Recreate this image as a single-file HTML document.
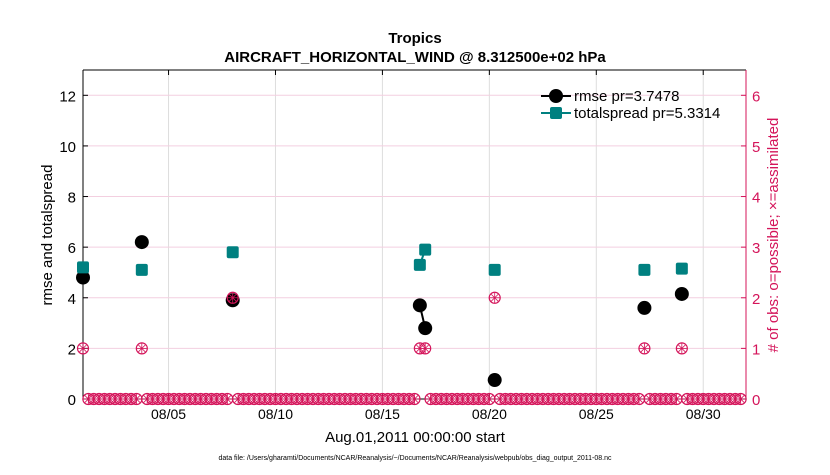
<!DOCTYPE html>
<html><head><meta charset="utf-8"><style>
body{margin:0;background:#fff;}
svg text{font-family:"Liberation Sans",sans-serif;}
</style></head><body>
<svg id="chart" width="830" height="470" xmlns="http://www.w3.org/2000/svg">
<rect width="830" height="470" fill="#fff"/>
<text x="415" y="43" text-anchor="middle" font-size="15" font-weight="bold">Tropics</text>
<text x="415" y="62" text-anchor="middle" font-size="15" font-weight="bold">AIRCRAFT_HORIZONTAL_WIND @ 8.312500e+02 hPa</text>
<g id="grid"></g>
<g id="axes"></g>
<g id="marks"></g>
<text transform="translate(52,235) rotate(-90)" text-anchor="middle" font-size="15">rmse and totalspread</text>
<text transform="translate(778,235) rotate(-90)" text-anchor="middle" font-size="15" fill="#d4145a"># of obs: o=possible; ×=assimilated</text>
<text x="415" y="442" text-anchor="middle" font-size="15">Aug.01,2011 00:00:00 start</text>
<text x="415" y="460" text-anchor="middle" font-size="7">data file: /Users/gharamti/Documents/NCAR/Reanalysis/~/Documents/NCAR/Reanalysis/webpub/obs_diag_output_2011-08.nc</text>
<g>
<line x1="541" y1="96" x2="571" y2="96" stroke="#000" stroke-width="2"/>
<circle cx="556" cy="96" r="7" fill="#000"/>
<text x="574" y="101" font-size="15">rmse pr=3.7478</text>
<line x1="541" y1="113" x2="571" y2="113" stroke="#008080" stroke-width="2"/>
<rect x="550" y="107" width="12" height="12" rx="2" fill="#008080"/>
<text x="574" y="118" font-size="15">totalspread pr=5.3314</text>
</g>
</svg>
<script>
const xTickLabels=["08/05","08/10","08/15","08/20","08/25","08/30"];
const xTickDays=[5,10,15,20,25,30];
const yTicks=[0,2,4,6,8,10,12];
const rTicks=[0,1,2,3,4,5,6];
const obsSlots=[0,11,28,63,64,77,105,112];
const rmse=[4.8,6.2,3.9,3.7,2.8,0.75,3.6,4.15];
const spread=[5.2,5.1,5.8,5.3,5.9,5.1,5.1,5.15];
const obsCount=[1,1,2,1,1,2,1,1];
const nSlots=124;
const NS="http://www.w3.org/2000/svg";
const L=83,R=746,T=70,B=399;
const xs=d=>L+(d-1)*(R-L)/31;
const ys=v=>B-v*(B-T)/13;
const yr=v=>ys(v*2);
const slotDay=i=>1+i/4;
function mk(tag,attrs,parent){const e=document.createElementNS(NS,tag);for(const k in attrs)e.setAttribute(k,attrs[k]);parent.appendChild(e);return e;}
const grid=document.getElementById('grid'),axes=document.getElementById('axes'),marks=document.getElementById('marks');
xTickDays.forEach((d,i)=>{const x=xs(d);
 const g=mk('line',{x1:x,x2:x,y1:T,y2:B,stroke:'#ddd','stroke-width':1},grid);
 
 mk('line',{x1:x,x2:x,y1:B,y2:B-5,stroke:'#000'},axes);mk('line',{x1:x,x2:x,y1:T,y2:T+5,stroke:'#000'},axes);
 const t=mk('text',{x:x,y:B+20,'text-anchor':'middle','font-size':14},axes);t.textContent=xTickLabels[i];
 });
rTicks.forEach(v=>{const y=yr(v);
 const g=mk('line',{x1:L,x2:R,y1:y,y2:y,stroke:'#f3cfe0','stroke-width':1},grid);
 
 mk('line',{x1:R,x2:R-5,y1:y,y2:y,stroke:'#d4145a'},axes);
 const t=mk('text',{x:R+6,y:y+6,'font-size':15,fill:'#d4145a'},axes);t.textContent=v;
 });
yTicks.forEach(v=>{const y=ys(v);
 mk('line',{x1:L,x2:L+5,y1:y,y2:y,stroke:'#000'},axes);
 const t=mk('text',{x:L-7,y:y+6,'text-anchor':'end','font-size':15},axes);t.textContent=v;
 });
mk('line',{x1:L,x2:R,y1:T,y2:T,stroke:'#000'},axes);
mk('line',{x1:L,x2:R,y1:B,y2:B,stroke:'#000'},axes);
mk('line',{x1:L,x2:L,y1:T,y2:B,stroke:'#000'},axes);
mk('line',{x1:R,x2:R,y1:T,y2:B,stroke:'#d4145a'},axes);
function obsMarker(x,y){const g=mk('g',{},marks);
 
 mk('circle',{cx:x,cy:y,r:5.5,fill:'none',stroke:'#d4145a','stroke-width':1.2},g);
 for(let a=0;a<4;a++){const an=a*Math.PI/4;mk('line',{x1:x-5*Math.cos(an),y1:y-5*Math.sin(an),x2:x+5*Math.cos(an),y2:y+5*Math.sin(an),stroke:'#d4145a','stroke-width':0.8},g);}}
for(let i=0;i<nSlots;i++){const k=obsSlots.indexOf(i);if(k<0)obsMarker(xs(slotDay(i)),yr(0));}
// rmse connecting lines for consecutive slots
for(let k=1;k<obsSlots.length;k++){if(obsSlots[k]-obsSlots[k-1]===1){
 const l=mk('line',{x1:xs(slotDay(obsSlots[k-1])),y1:ys(rmse[k-1]),x2:xs(slotDay(obsSlots[k])),y2:ys(rmse[k]),stroke:'#000','stroke-width':2},marks);
 
 const l2=mk('line',{x1:xs(slotDay(obsSlots[k-1])),y1:ys(spread[k-1]),x2:xs(slotDay(obsSlots[k])),y2:ys(spread[k]),stroke:'#008080','stroke-width':2},marks);
 }}
obsSlots.forEach((s,k)=>{const x=xs(slotDay(s));
 const c=mk('circle',{cx:x,cy:ys(rmse[k]),r:7,fill:'#000'},marks);
 
 const r=mk('rect',{x:x-6,y:ys(spread[k])-6,width:12,height:12,rx:2,fill:'#008080'},marks);
 
 obsMarker(x,yr(obsCount[k]));});
</script>
</body></html>
